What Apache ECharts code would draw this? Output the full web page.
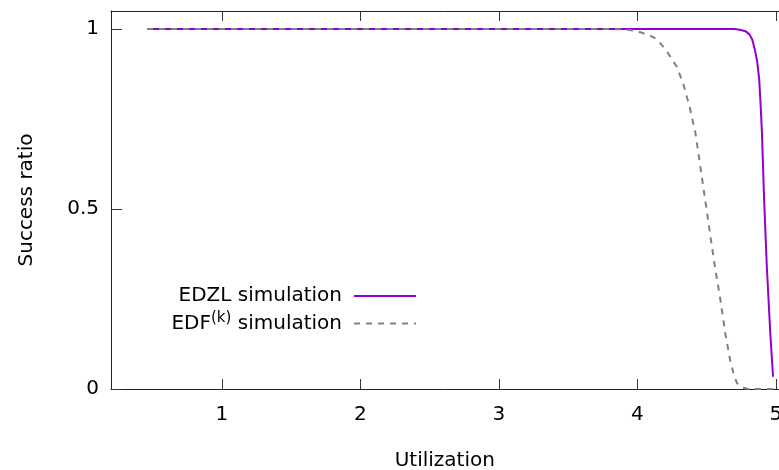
<!DOCTYPE html>
<html>
<head>
<meta charset="utf-8">
<script src="https://cdn.jsdelivr.net/npm/echarts@6/dist/echarts.min.js"></script>
<style>
    html, body { margin: 0; padding: 0; background: #fff; }
    #main { width: 779px; height: 470px; }
</style>
</head>
<body>
<div id="main"></div>
<script>
// EDZL simulation: [utilization, success ratio]
var edzlData = [
    [0.46, 1], [4.7, 1], [4.74, 0.998], [4.78, 0.994], [4.81, 0.985],
    [4.83, 0.97], [4.85, 0.94], [4.865, 0.91], [4.88, 0.86], [4.89, 0.79],
    [4.9, 0.71], [4.915, 0.53], [4.935, 0.34], [4.96, 0.155], [4.98, 0.034]
];
// EDF(k) simulation
var edfData = [
    [0.46, 1], [3.8, 1], [3.9, 0.999], [3.95, 0.997], [4.03, 0.99],
    [4.1, 0.98], [4.14, 0.972], [4.21, 0.94], [4.285, 0.895], [4.33, 0.85],
    [4.38, 0.78], [4.42, 0.71], [4.455, 0.617], [4.49, 0.525], [4.525, 0.432],
    [4.56, 0.34], [4.6, 0.247], [4.635, 0.155], [4.67, 0.08], [4.7, 0.035],
    [4.72, 0.016], [4.76, 0.004], [4.8, 0], [4.98, 0]
];
var seriesNames = ['EDZL simulation', 'EDF(k) simulation'];
var xTicks = [1, 2, 3, 4, 5];
var yTicks = [0, 0.5, 1];

var font = 'DejaVu Sans';
var fontSize = 20;
var myChart = echarts.init(document.getElementById('main'));

var xAxisBase = function(pos) {
    return {
        type: 'value',
        position: pos,
        min: 0.2,
        max: 5.02,
        axisLine: { show: true, lineStyle: { color: '#222', width: 1 } },
        axisTick: {
            show: true, inside: true, length: 10, customValues: xTicks,
            lineStyle: { color: '#333' }
        },
        splitLine: { show: false },
        axisLabel: { show: false }
    };
};

var bottomAxis = xAxisBase('bottom');
bottomAxis.axisLabel = {
    show: true, customValues: xTicks, margin: 16,
    fontFamily: font, fontSize: fontSize, color: '#000'
};
bottomAxis.name = 'Utilization';
bottomAxis.nameLocation = 'middle';
bottomAxis.nameGap = 62;
bottomAxis.nameTextStyle = { fontFamily: font, fontSize: fontSize, color: '#000' };

var legendText = {
    fontFamily: font, fontSize: fontSize, color: '#000', padding: [0, 7, 0, 0],
    rich: {
        sup: { fontFamily: font, fontSize: 15, color: '#000', padding: [0, 0, 10, 0] }
    }
};

var option = {
    animation: false,
    backgroundColor: '#fff',
    grid: {
        left: 111, top: 11, width: 667.6, height: 378,
        containLabel: false, outerBoundsMode: 'none'
    },
    legend: [{
        data: [seriesNames[0]],
        orient: 'vertical', align: 'right', right: 362, top: 286, padding: 0,
        itemWidth: 62, itemHeight: 14,
        itemStyle: { opacity: 0 },
        textStyle: legendText
    }, {
        data: [seriesNames[1]],
        orient: 'vertical', align: 'right', right: 362, top: 311, padding: 0,
        itemWidth: 62, itemHeight: 14,
        itemStyle: { opacity: 0 },
        textStyle: legendText,
        formatter: function() { return 'EDF{sup|(k)} simulation'; }
    }],
    xAxis: [bottomAxis, xAxisBase('top')],
    yAxis: {
        type: 'value',
        min: 0,
        max: 1.05,
        name: 'Success ratio',
        nameLocation: 'middle',
        nameGap: 74,
        nameTextStyle: { fontFamily: font, fontSize: fontSize, color: '#000' },
        axisLine: { show: true, lineStyle: { color: '#222', width: 1 } },
        axisTick: {
            show: true, inside: true, length: 11, customValues: yTicks,
            lineStyle: { color: '#333' }
        },
        splitLine: { show: false },
        axisLabel: {
            customValues: yTicks, margin: 12,
            fontFamily: font, fontSize: fontSize, color: '#000'
        }
    },
    series: [{
        name: seriesNames[0],
        type: 'line',
        data: edzlData,
        symbol: 'none',
        lineStyle: { color: '#9400d3', width: 2 },
        itemStyle: { color: '#9400d3' }
    }, {
        name: seriesNames[1],
        type: 'line',
        data: edfData,
        symbol: 'none',
        lineStyle: { color: '#808080', width: 2, type: [6, 6] },
        itemStyle: { color: '#808080' }
    }]
};

myChart.setOption(option);
</script>
</body>
</html>
